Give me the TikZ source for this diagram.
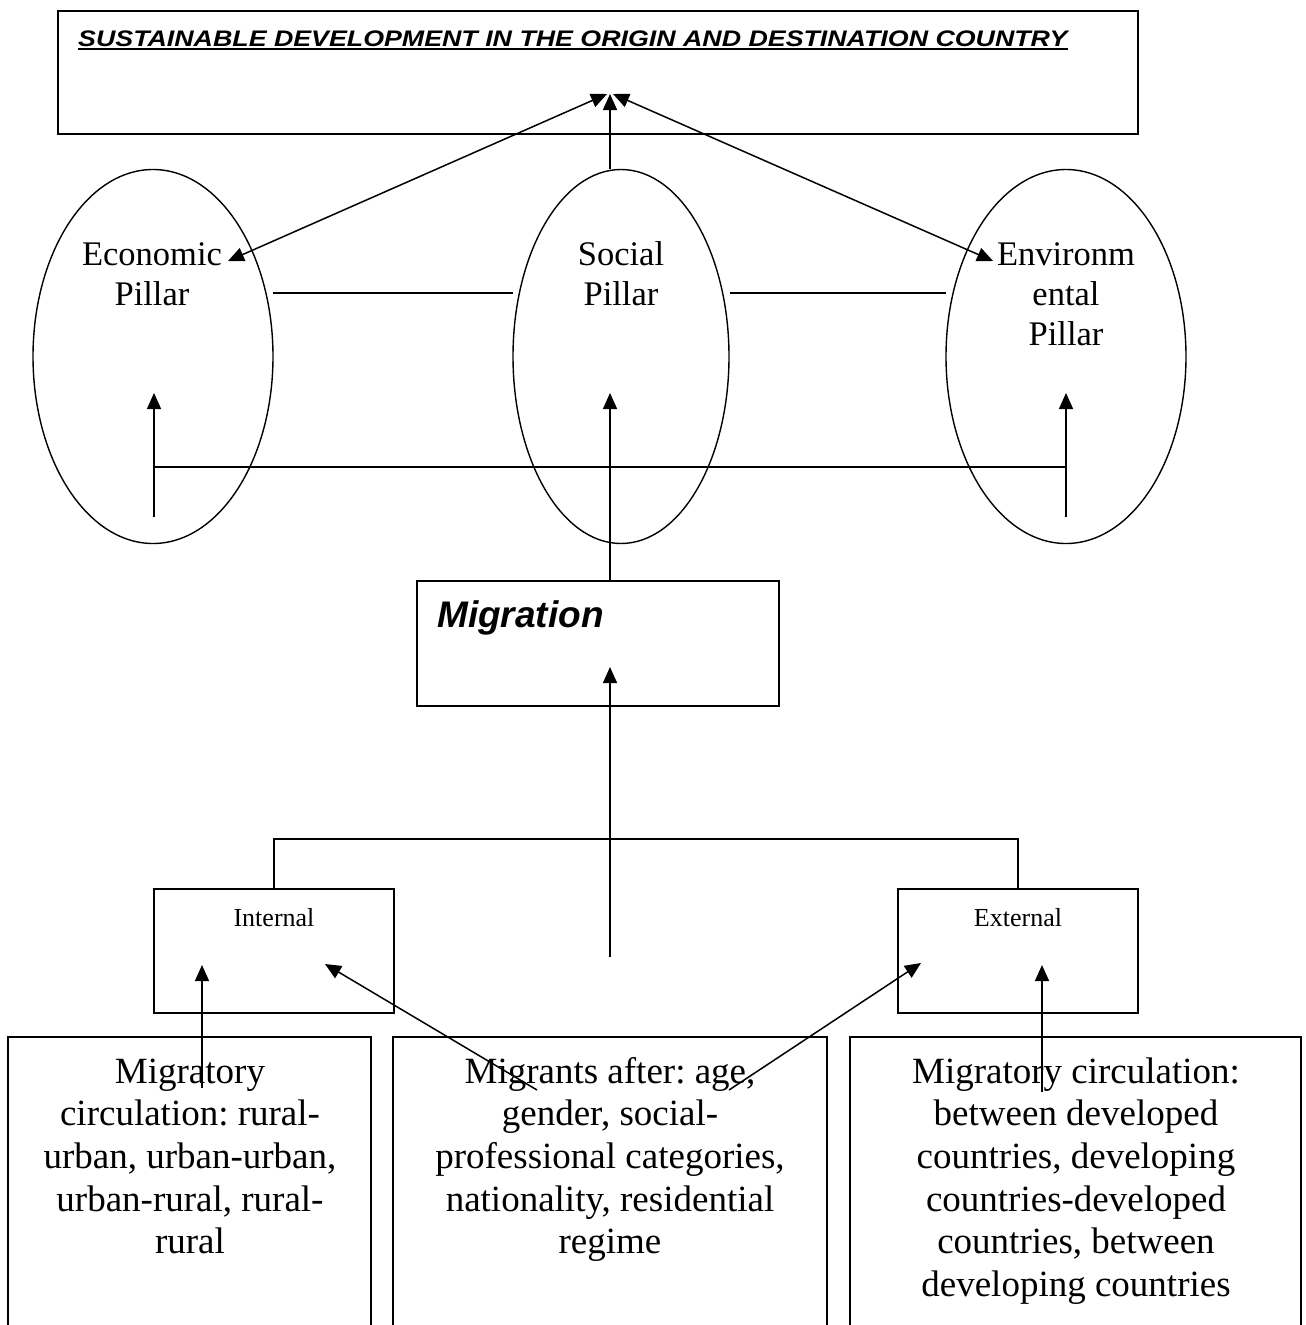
\documentclass[tikz,border=0pt]{standalone}
\usepackage{fontspec}
\setmainfont{Liberation Serif}
\newfontfamily\arialfont{Liberation Sans}
\usepackage{graphicx}
\usetikzlibrary{arrows.meta,shapes.geometric}
\frenchspacing
\begin{document}
\begin{tikzpicture}[x=1pt,y=-1pt,
  box/.style={draw,line width=1.8pt,rectangle,inner sep=0},
  pillar/.style={draw,line width=1.4pt,ellipse,inner sep=0},
  conn/.style={line width=1.5pt},
  arr/.style={conn,-{Triangle[length=16pt,width=14pt]}},
  dblarr/.style={conn,{Triangle[length=16pt,width=14pt]}-{Triangle[length=16pt,width=14pt]}},
  pillartext/.style={anchor=north,inner sep=0,align=center,font=\frenchspacing\fontsize{34.5}{40}\selectfont},
  desctext/.style={anchor=north,inner sep=0,align=center,font=\frenchspacing\fontsize{37}{42.7}\selectfont},
  smalltext/.style={anchor=base,inner sep=0,font=\fontsize{26}{30}\selectfont},
]
\useasboundingbox (0,0) rectangle (1306,1325);
\fill[white] (0,0) rectangle (1306,1325);
\clip (0,0) rectangle (1306,1325);

% top box
\node[box,minimum width=1080pt,minimum height=123pt] (top) at (598,72.5) {};
\node[anchor=base west,inner sep=0,font=\arialfont\bfseries\itshape\fontsize{22.5}{27}\selectfont] (title) at (78,46)
  {\scalebox{1.19}[1]{SUSTAINABLE DEVELOPMENT IN THE ORIGIN AND DESTINATION COUNTRY}};
\draw[line width=2pt] ([yshift=-3pt]title.base west) -- ([yshift=-3pt]title.base east);

% pillars
\node[pillar,minimum width=240pt,minimum height=374pt] (eco) at (153,356.5) {};
\node[pillar,minimum width=216pt,minimum height=374pt] (soc) at (621,356.5) {};
\node[pillar,minimum width=240pt,minimum height=374pt] (env) at (1066,356.5) {};
\node[pillartext] (ecot) at (152,237) {\strut Economic\\Pillar};
\node[pillartext] (soct) at (621,237) {\strut Social\\Pillar};
\node[pillartext] (envt) at (1066,237) {\strut Environm\\ental\\Pillar};

% top arrows
\coordinate (tipL) at (607,94);
\coordinate (tipM) at (610,94);
\coordinate (tipR) at (613,94);
\coordinate (ecoTip) at (228,261);
\coordinate (envTip) at (993,261);
\draw[dblarr] (ecoTip) -- (tipL);
\draw[dblarr] (envTip) -- (tipR);
\draw[arr] (tipM |- soc.north) -- (tipM);

% horizontal links between pillars
\coordinate (l1a) at (273,293);
\coordinate (l1b) at (513,293);
\coordinate (l2a) at (730,293);
\coordinate (l2b) at (946,293);
\draw[conn] (l1a) -- (l1b);
\draw[conn] (l2a) -- (l2b);

% lower bar and arrows into pillars
\coordinate (ecoUp) at (154,393);
\coordinate (ecoLow) at (154,517);
\coordinate (envUp) at (1066,393);
\coordinate (envLow) at (1066,517);
\coordinate (ecoBar) at (154,467);
\coordinate (envBar) at (1066,467);
\draw[conn] (ecoBar) -- (envBar);
\draw[arr] (ecoLow) -- (ecoUp);
\draw[arr] (envLow) -- (envUp);

% migration
\node[box,minimum width=362pt,minimum height=125pt] (mig) at (598,643.5) {};
\node[anchor=base west,inner sep=0,font=\arialfont\bfseries\itshape\fontsize{37}{44}\selectfont] (migt) at (437,627) {Migration};
\coordinate (socUp) at (610,393);
\draw[arr] (mig.north -| socUp) -- (socUp);
\coordinate (migUp) at (610,667);
\coordinate (migLow) at (610,957);
\draw[arr] (migLow) -- (migUp);

% internal / external
\node[box,minimum width=240pt,minimum height=124pt] (int) at (274,951) {};
\node[box,minimum width=240pt,minimum height=124pt] (ext) at (1018,951) {};
\node[smalltext] (intt) at (274,926) {Internal};
\node[smalltext] (extt) at (1018,926) {External};
\coordinate (branch) at (610,839);
\draw[conn] (int.north) |- (branch) -| (ext.north);

% bottom boxes
\node[box,minimum width=363pt,minimum height=363pt] (b1) at (189.5,1218.5) {};
\node[box,minimum width=434pt,minimum height=363pt] (b2) at (610,1218.5) {};
\node[box,minimum width=451pt,minimum height=363pt] (b3) at (1075.5,1218.5) {};
\node[desctext] (b1t) at (190,1053) {\strut Migratory\\circulation: rural-\\urban, urban-urban,\\urban-rural, rural-\\rural};
\node[desctext] (b2t) at (610,1053) {\strut Migrants after: age,\\gender, social-\\professional categories,\\nationality, residential\\regime};
\node[desctext] (b3t) at (1076,1053) {\strut Migratory circulation:\\between developed\\countries, developing\\countries-developed\\countries, between\\developing countries};

% arrows from bottom boxes
\coordinate (a1s) at (202,1088);
\coordinate (a1e) at (202,965);
\coordinate (a2s) at (537,1090);
\coordinate (a2e) at (325,964);
\coordinate (a3s) at (729,1090);
\coordinate (a3e) at (921,963);
\coordinate (a4s) at (1042,1092);
\coordinate (a4e) at (1042,965);
\draw[arr] (a1s) -- (a1e);
\draw[arr] (a2s) -- (a2e);
\draw[arr] (a3s) -- (a3e);
\draw[arr] (a4s) -- (a4e);
\end{tikzpicture}
\end{document}
